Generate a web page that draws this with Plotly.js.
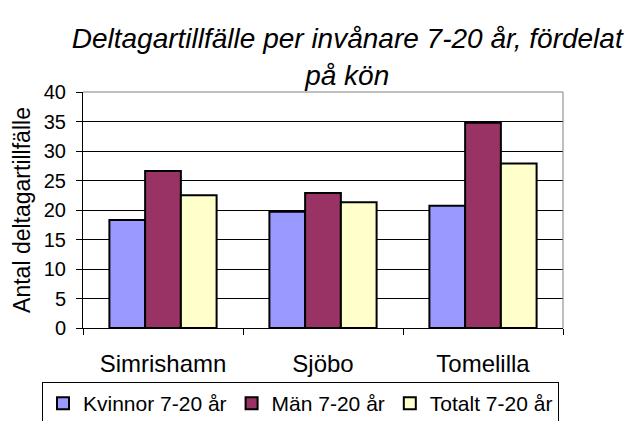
<!DOCTYPE html>
<html>
<head>
<meta charset="utf-8">
<script src="https://cdn.plot.ly/plotly-3.0.1.min.js"></script>
<style>html,body{margin:0;padding:0;background:#fff;}#chart{width:643px;height:421px;}</style>
</head>
<body>
<div id="chart"></div>
<script>
const categories = ["Simrishamn", "Sjöbo", "Tomelilla"];
const kvinnor = [18.3, 19.7, 20.7];
const man = [26.6, 22.9, 34.8];
const totalt = [22.5, 21.3, 27.9];
const seriesNames = ["Kvinnor 7-20 år", "Män 7-20 år", "Totalt 7-20 år"];
const yTicks = [0, 5, 10, 15, 20, 25, 30, 35, 40];

const colors = ["#9999FF", "#993366", "#FFFFCC"];
const font = "Liberation Sans, Arial, sans-serif";

const traces = [kvinnor, man, totalt].map((vals, i) => ({
  type: "bar",
  name: seriesNames[i],
  x: categories,
  y: vals,
  marker: {color: colors[i], line: {color: "#000", width: 2}}
}));

const layout = {
  width: 643, height: 421,
  margin: {l: 83, r: 80, t: 92, b: 93, autoexpand: false},
  paper_bgcolor: "#fff", plot_bgcolor: "#fff",
  font: {family: font, color: "#000", size: 20},
  title: {
    text: "<i>Deltagartillfälle per invånare 7-20 år, fördelat<br>på kön</i>",
    font: {family: font, size: 28, color: "#000"},
    x: 0.54, xanchor: "center", yref: "container", y: 0.885, yanchor: "middle"
  },
  barmode: "group", bargap: 0.33, bargroupgap: 0,
  showlegend: true,
  legend: {
    orientation: "h", xref: "paper", x: (42 - 83) / 480, xanchor: "left",
    yref: "paper", y: (328 - 382) / 236, yanchor: "top",
    bordercolor: "#000", borderwidth: 1, bgcolor: "#fff",
    font: {family: font, size: 21, color: "#000"},
    itemwidth: 30, traceorder: "normal"
  },
  xaxis: {
    type: "category",
    showline: true, linecolor: "#000", linewidth: 1,
    ticks: "outside", tickson: "boundaries", ticklen: 6, tickcolor: "#000",
    tickfont: {family: font, size: 24, color: "#000"},
    ticklabelstandoff: 14,
    mirror: false, showgrid: false, zeroline: false
  },
  yaxis: {
    range: [0, 40], tickvals: yTicks, ticktext: yTicks.map(String),
    showline: true, linecolor: "#000", linewidth: 1,
    ticks: "outside", ticklen: 6, tickcolor: "#000",
    tickfont: {family: font, size: 20, color: "#000"},
    ticklabelstandoff: 6,
    showgrid: true, gridcolor: "#000", gridwidth: 1, zeroline: false,
    title: {text: "Antal deltagartillfälle", font: {family: font, size: 23, color: "#000"}, standoff: 6}
  },
  shapes: [
    {type: "line", xref: "paper", yref: "paper", x0: 0, x1: 1, y0: 1, y1: 1, line: {color: "#808080", width: 1}},
    {type: "line", xref: "paper", yref: "paper", x0: 1, x1: 1, y0: 0, y1: 1, line: {color: "#808080", width: 1}}
  ]
};

Plotly.newPlot("chart", traces, layout, {displayModeBar: false, staticPlot: true});
</script>
</body>
</html>
